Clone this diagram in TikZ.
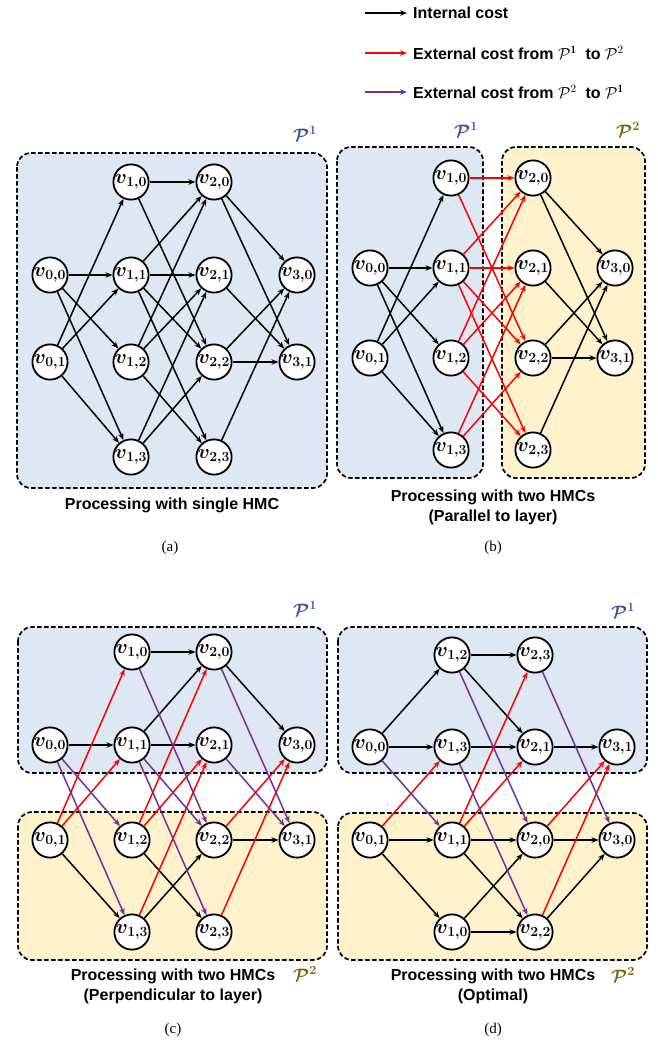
\RequirePackage{fix-cm}
\documentclass[tikz,border=0pt]{standalone}
\usepackage{fontspec}
\newfontfamily\lblfont{Liberation Sans}
\newfontfamily\subcapfont{Liberation Serif}
\usetikzlibrary{arrows.meta}
\definecolor{boxblue}{HTML}{DEE8F5}
\definecolor{boxyellow}{HTML}{FFF2CC}
\definecolor{xpurple}{HTML}{7030A0}
\definecolor{pone}{HTML}{2F5597}
\definecolor{ptwo}{HTML}{7F6000}
\begin{document}
\begin{tikzpicture}[x=1pt,y=-1pt,
  vtx/.style={circle, draw, line width=1.8pt, fill=white, minimum size=34pt, inner sep=0pt, font=\fontsize{20}{20}\selectfont\boldmath},
  arr/.style={line width=1.5pt, -{Stealth[length=7pt,width=5.5pt]}},
  ie/.style={arr, black},
  re/.style={arr, red},
  pe/.style={arr, xpurple},
  part/.style={draw, dash pattern=on 4.5pt off 2.5pt, line width=1.7pt, rounded corners=14pt},
  oneb/.style={part, fill=boxblue},
  twob/.style={part, fill=boxyellow},
  capt/.style={font=\lblfont\bfseries\fontsize{16}{20}\selectfont, align=center},
  legt/.style={font=\lblfont\bfseries\fontsize{16}{20}\selectfont, anchor=west, inner sep=0pt},
  subc/.style={font=\subcapfont\fontsize{15}{18}\selectfont},
  plab/.style={font=\fontsize{18}{18}\selectfont\boldmath, inner sep=0pt}
]
\useasboundingbox (0,0) rectangle (658,1047);

% ---------- legend ----------
\coordinate (l1s) at (365,13); \coordinate (l1e) at (407,13);
\coordinate (l2s) at (365,53); \coordinate (l2e) at (407,53);
\coordinate (l3s) at (365,92); \coordinate (l3e) at (407,92);
\draw[ie] (l1s) -- (l1e);
\draw[re] (l2s) -- (l2e);
\draw[pe] (l3s) -- (l3e);
\node[legt] (lt1) at (413,13) {Internal cost};
\node[legt] (lt2) at (413,53) {External cost from $\mathcal{P}^{\mathbf{1}}$\ \ to $\mathcal{P}^2$};
\node[legt] (lt3) at (413,92) {External cost from $\mathcal{P}^2$\ \ to $\mathcal{P}^{\mathbf{1}}$};

% ---------- (a) single partition ----------
\draw[oneb] (17,153) rectangle (327,488);
\node[plab, text=pone] (aP1) at (305,134) {$\mathcal{P}^1$};
\node[vtx] (a00) at (50,275) {$v_{0,0}$};
\node[vtx] (a01) at (50,362) {$v_{0,1}$};
\node[vtx] (a10) at (131,182) {$v_{1,0}$};
\node[vtx] (a11) at (131,275) {$v_{1,1}$};
\node[vtx] (a12) at (131,362) {$v_{1,2}$};
\node[vtx] (a13) at (131,457) {$v_{1,3}$};
\node[vtx] (a20) at (214,182) {$v_{2,0}$};
\node[vtx] (a21) at (214,275) {$v_{2,1}$};
\node[vtx] (a22) at (214,362) {$v_{2,2}$};
\node[vtx] (a23) at (214,457) {$v_{2,3}$};
\node[vtx] (a30) at (297,275) {$v_{3,0}$};
\node[vtx] (a31) at (297,362) {$v_{3,1}$};
\foreach \s/\t in {00/11,00/12,00/13,01/10,01/11,01/13,10/20,10/22,11/20,11/21,11/22,11/23,
  12/20,12/21,12/23,13/21,13/22,20/30,20/31,21/31,22/30,22/31,23/30}
  \draw[ie] (a\s) -- (a\t);
\node[capt] (acap) at (172,505) {Processing with single HMC};
\node[subc] (asub) at (170,548) {(a)};

% ---------- (b) split parallel to layers ----------
\draw[oneb] (337,147) rectangle (483,478);
\draw[twob] (502,147) rectangle (645,478);
\node[plab, text=pone] (bP1) at (466,130) {$\mathcal{P}^1$};
\node[plab, text=ptwo] (bP2) at (628,130) {$\mathcal{P}^2$};
\node[vtx] (b00) at (370,268) {$v_{0,0}$};
\node[vtx] (b01) at (370,358) {$v_{0,1}$};
\node[vtx] (b10) at (451,178) {$v_{1,0}$};
\node[vtx] (b11) at (451,268) {$v_{1,1}$};
\node[vtx] (b12) at (451,358) {$v_{1,2}$};
\node[vtx] (b13) at (451,450) {$v_{1,3}$};
\node[vtx] (b20) at (533,178) {$v_{2,0}$};
\node[vtx] (b21) at (533,268) {$v_{2,1}$};
\node[vtx] (b22) at (533,358) {$v_{2,2}$};
\node[vtx] (b23) at (533,450) {$v_{2,3}$};
\node[vtx] (b30) at (615,268) {$v_{3,0}$};
\node[vtx] (b31) at (615,358) {$v_{3,1}$};
\foreach \s/\t in {00/11,00/12,00/13,01/10,01/11,01/13,20/30,20/31,21/31,22/30,22/31,23/30}
  \draw[ie] (b\s) -- (b\t);
\foreach \s/\t in {10/20,10/22,11/20,11/21,11/22,11/23,12/20,12/21,12/23,13/21,13/22}
  \draw[re] (b\s) -- (b\t);
\node[capt] (bcap) at (493,507) {Processing with two HMCs\\(Parallel to layer)};
\node[subc] (bsub) at (493,548) {(b)};

% ---------- (c) split perpendicular to layers ----------
\draw[oneb] (18,627) rectangle (327,773);
\draw[twob] (18,812) rectangle (327,960);
\node[plab, text=pone] (cP1) at (305,609) {$\mathcal{P}^1$};
\node[plab, text=ptwo] (cP2) at (305,974) {$\mathcal{P}^2$};
\node[vtx] (c10) at (132,652) {$v_{1,0}$};
\node[vtx] (c20) at (214,652) {$v_{2,0}$};
\node[vtx] (c00) at (50,745) {$v_{0,0}$};
\node[vtx] (c11) at (132,745) {$v_{1,1}$};
\node[vtx] (c21) at (214,745) {$v_{2,1}$};
\node[vtx] (c30) at (297,745) {$v_{3,0}$};
\node[vtx] (c01) at (50,840) {$v_{0,1}$};
\node[vtx] (c12) at (132,840) {$v_{1,2}$};
\node[vtx] (c22) at (214,840) {$v_{2,2}$};
\node[vtx] (c31) at (297,840) {$v_{3,1}$};
\node[vtx] (c13) at (132,932) {$v_{1,3}$};
\node[vtx] (c23) at (214,932) {$v_{2,3}$};
\foreach \s/\t in {00/11,01/13,10/20,11/20,11/21,12/23,13/22,20/30,22/31}
  \draw[ie] (c\s) -- (c\t);
\foreach \s/\t in {01/10,01/11,12/20,12/21,13/21,22/30,23/30}
  \draw[re] (c\s) -- (c\t);
\foreach \s/\t in {00/12,00/13,10/22,11/22,11/23,20/31,21/31}
  \draw[pe] (c\s) -- (c\t);
\node[capt] (ccap) at (173,986) {Processing with two HMCs\\(Perpendicular to layer)};
\node[subc] (csub) at (173,1030) {(c)};

% ---------- (d) optimal split ----------
\draw[oneb] (338,627) rectangle (647,773);
\draw[twob] (338,813) rectangle (647,960);
\node[plab, text=pone] (dP1) at (623,611) {$\mathcal{P}^1$};
\node[plab, text=ptwo] (dP2) at (623,975) {$\mathcal{P}^2$};
\node[vtx] (d12) at (452,655) {$v_{1,2}$};
\node[vtx] (d23) at (535,655) {$v_{2,3}$};
\node[vtx] (d00) at (370,747) {$v_{0,0}$};
\node[vtx] (d13) at (452,747) {$v_{1,3}$};
\node[vtx] (d21) at (535,747) {$v_{2,1}$};
\node[vtx] (d31) at (617,747) {$v_{3,1}$};
\node[vtx] (d01) at (370,840) {$v_{0,1}$};
\node[vtx] (d11) at (452,840) {$v_{1,1}$};
\node[vtx] (d20) at (535,840) {$v_{2,0}$};
\node[vtx] (d30) at (617,840) {$v_{3,0}$};
\node[vtx] (d10) at (452,932) {$v_{1,0}$};
\node[vtx] (d22) at (535,932) {$v_{2,2}$};
\foreach \s/\t in {00/12,00/13,01/10,01/11,10/20,10/22,11/20,11/22,12/21,12/23,13/21,20/30,21/31,22/30}
  \draw[ie] (d\s) -- (d\t);
\foreach \s/\t in {01/13,11/21,11/23,20/31,22/31}
  \draw[re] (d\s) -- (d\t);
\foreach \s/\t in {00/11,12/20,13/22,23/30}
  \draw[pe] (d\s) -- (d\t);
\node[capt] (dcap) at (493,986) {Processing with two HMCs\\(Optimal)};
\node[subc] (dsub) at (493,1030) {(d)};
\end{tikzpicture}
\end{document}
